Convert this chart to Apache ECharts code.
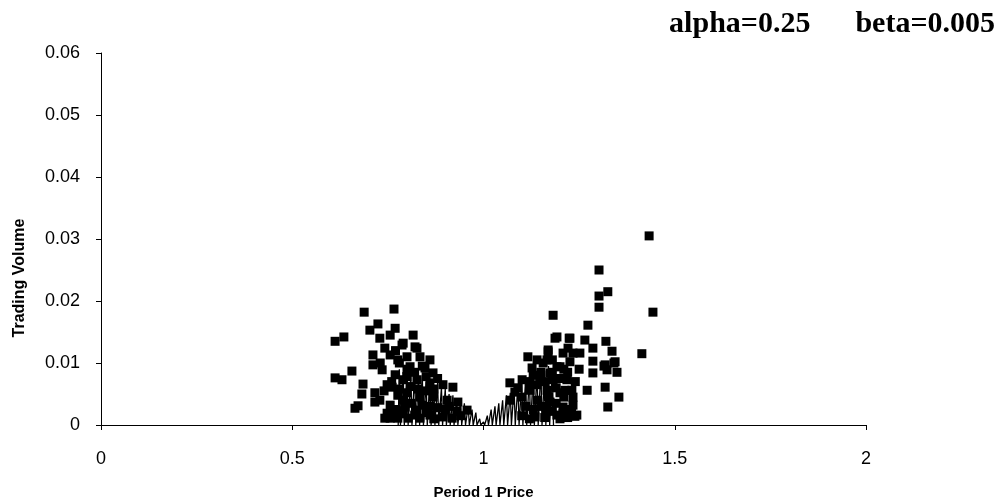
<!DOCTYPE html>
<html>
<head>
<meta charset="utf-8">
<script src="https://cdn.jsdelivr.net/npm/echarts@6/dist/echarts.min.js"></script>
<style>html,body{margin:0;padding:0;background:#fff}#c{width:1007px;height:499px}</style>
</head>
<body>
<div id="c"></div>
<script>
// Tick labels
var xTicks = [0, 0.5, 1, 1.5, 2];
var yTicks = [0, 0.01, 0.02, 0.03, 0.04, 0.05, 0.06];

// Square markers: left cluster (price < 1)
var priceLeft = [0.612,0.635,0.612,0.630,0.656,0.664,0.672,0.685,0.682,0.688,0.766,0.703,0.724,0.729,0.769,0.756,0.816,0.742,0.711,0.787,0.711,0.716,0.716,0.761,0.756,0.748,0.826,
  0.756,0.776,0.735,0.769,0.748,0.776,0.756,0.742,0.776,0.729,
  0.821,0.790,0.860,0.834,0.800,0.847,0.808,0.868,0.790,0.826,0.860,0.894,0.920,0.800,0.834,0.868,0.905,0.933,0.957,0.795,0.826,0.803,0.834,0.860,0.894,0.918,
  0.78,0.80,0.82,0.84,0.85,0.81,0.83,0.85,0.87,0.88,0.79,0.81,0.84,0.86,0.88,0.90,0.77,0.79,0.82,0.85,0.87,0.91,0.93,0.94,0.76,0.78,0.80,0.74,0.73,0.77];
var volumeLeft = [0.0135,0.0142,0.0076,0.0073,0.0087,0.0027,0.0031,0.0066,0.0050,0.0182,0.0187,0.0153,0.0163,0.0140,0.0156,0.0145,0.0145,0.0124,0.0113,0.0129,0.0097,0.0037,0.0052,0.0061,0.0011,0.0019,0.0124,
  0.0113,0.0105,0.0089,0.0081,0.0065,0.0048,0.0032,0.0011,0.0011,0.0040,
  0.0126,0.0132,0.0105,0.0110,0.0110,0.0092,0.0094,0.0084,0.0073,0.0073,0.0068,0.0065,0.0061,0.0052,0.0045,0.0045,0.0040,0.0037,0.0024,0.0029,0.0024,0.0011,0.0011,0.0016,0.0013,0.0011,
  0.0100,0.0090,0.0085,0.0095,0.0078,0.0062,0.0058,0.0055,0.0058,0.0075,0.0040,0.0035,0.0032,0.0030,0.0028,0.0025,0.0025,0.0018,0.0016,0.0020,0.0010,0.0030,0.0022,0.0015,0.0070,0.0058,0.0078,0.0055,0.0100,0.0120];

// Square markers: right cluster (price > 1)
var priceRight = [1.433,1.443,1.414,1.302,1.325,1.302,1.302,1.273,1.182,1.187,1.226,1.265,1.320,1.286,1.336,1.169,1.221,1.286,1.318,1.344,1.349,1.286,1.323,1.271,1.318,1.354,1.325,1.239,1.208,1.234,1.200,1.231,1.166,1.174,1.192,1.226,1.252,
  1.315,1.341,
  1.192,1.224,1.116,1.169,1.208,1.234,1.127,1.156,1.200,1.101,1.148,1.182,1.218,1.069,1.082,1.122,1.166,1.213,1.234,1.140,1.174,1.208,1.213,1.166,1.135,1.244,1.192,
  1.09,1.10,1.12,1.13,1.14,1.15,1.16,1.18,1.19,1.20,1.21,1.22,1.11,1.13,1.15,1.17,1.19,1.21,1.23,1.10,1.12,1.16,1.18,1.20,1.22,1.24,1.25,1.07,1.18,1.14];
var volumeRight = [0.0305,0.0182,0.0115,0.0250,0.0215,0.0208,0.0190,0.0161,0.0177,0.0140,0.0140,0.0137,0.0135,0.0124,0.0119,0.0121,0.0124,0.0103,0.0097,0.0102,0.0085,0.0084,0.0089,0.0056,0.0061,0.0045,0.0029,0.0014,0.0019,0.0032,0.0052,0.0056,0.0105,0.0084,0.0094,0.0102,0.0116,
  0.0095,0.0100,
  0.0142,0.0140,0.0110,0.0118,0.0116,0.0116,0.0092,0.0100,0.0094,0.0073,0.0077,0.0073,0.0073,0.0068,0.0053,0.0056,0.0056,0.0056,0.0045,0.0040,0.0037,0.0029,0.0021,0.0024,0.0013,0.0016,0.0016,
  0.0060,0.0045,0.0070,0.0080,0.0065,0.0085,0.0070,0.0085,0.0060,0.0075,0.0090,0.0085,0.0030,0.0025,0.0030,0.0045,0.0035,0.0045,0.0025,0.0015,0.0010,0.0012,0.0022,0.0010,0.0012,0.0070,0.0090,0.0040,0.0105,0.0105];

// Thin comb-like trace near price = 1 (tooth position, tooth height)
var combPrice = [0.78,0.79,0.80,0.81,0.82,0.83,0.84,0.85,0.86,0.87,0.88,0.89,0.90,0.91,0.92,0.93,0.94,0.95,0.96,0.97,0.98,0.99,1.00,1.01,1.02,1.03,1.04,1.05,1.06,1.07,1.08,1.09,1.10,1.11,1.12,1.13,1.14,1.15,1.16,1.17,1.18];
var combVolume = [0.0090,0.0085,0.0090,0.0080,0.0085,0.0075,0.0080,0.0070,0.0072,0.0065,0.0068,0.0060,0.0058,0.0050,0.0048,0.0042,0.0040,0.0035,0.0030,0.0025,0.0020,0.0010,0.0005,0.0015,0.0025,0.0030,0.0035,0.0040,0.0048,0.0052,0.0060,0.0065,0.0070,0.0072,0.0078,0.0080,0.0085,0.0090,0.0088,0.0095,0.0090];

var squares = [];
priceLeft.forEach(function(p,i){ squares.push([p, volumeLeft[i]]); });
priceRight.forEach(function(p,i){ squares.push([p, volumeRight[i]]); });

var comb = [];
combPrice.forEach(function(p,i){
  comb.push([p - 0.003, 0]); comb.push([p, combVolume[i]]); comb.push([p + 0.003, 0]);
});

var chart = echarts.init(document.getElementById('c'));
chart.setOption({
  animation: false,
  backgroundColor: '#ffffff',
  title: {
    text: 'alpha=0.25      beta=0.005',
    right: 7, top: 4,
    textStyle: { fontFamily: 'Liberation Serif', fontWeight: 'bold', fontSize: 30, color: '#000' }
  },
  graphic: [{
    type: 'text', x: 20, y: 278, rotation: Math.PI / 2,
    style: { text: 'Trading Volume', align: 'center', verticalAlign: 'middle',
      font: 'bold 16px "Liberation Sans"', fill: '#000' }
  }],
  grid: { left: 101, right: 141, top: 53, bottom: 74, containLabel: false, outerBoundsMode: 'none' },
  xAxis: {
    type: 'value', min: 0, max: 2, interval: 0.5,
    name: 'Period 1 Price', nameLocation: 'middle', nameGap: 60,
    nameTextStyle: { fontFamily: 'Liberation Sans', fontWeight: 'bold', fontSize: 15, color: '#000' },
    axisLine: { show: true, lineStyle: { color: '#000', width: 1 } },
    axisTick: { show: true, length: 5, lineStyle: { color: '#000' } },
    axisLabel: { margin: 25, fontFamily: 'Liberation Sans', fontSize: 18, color: '#000',
      formatter: function(v){ return xTicks.indexOf(v) >= 0 ? String(v) : ''; } },
    splitLine: { show: false }
  },
  yAxis: {
    type: 'value', min: 0, max: 0.06, interval: 0.01,
    axisLine: { show: true, lineStyle: { color: '#000', width: 1 } },
    axisTick: { show: true, length: 5, lineStyle: { color: '#000' } },
    axisLabel: { margin: 21, fontFamily: 'Liberation Sans', fontSize: 18, color: '#000',
      formatter: function(v){ var t = yTicks.find(function(k){ return Math.abs(k - v) < 1e-9; }); return t === undefined ? '' : String(t); } },
    splitLine: { show: false }
  },
  series: [
    {
      type: 'line', data: comb, symbol: 'none', z: 3,
      lineStyle: { color: '#000', width: 1.3 }
    },
    {
      type: 'scatter', data: squares, symbol: 'rect', symbolSize: 9, z: 4,
      itemStyle: { color: '#000', opacity: 1 }
    }
  ]
});
</script>
</body>
</html>
